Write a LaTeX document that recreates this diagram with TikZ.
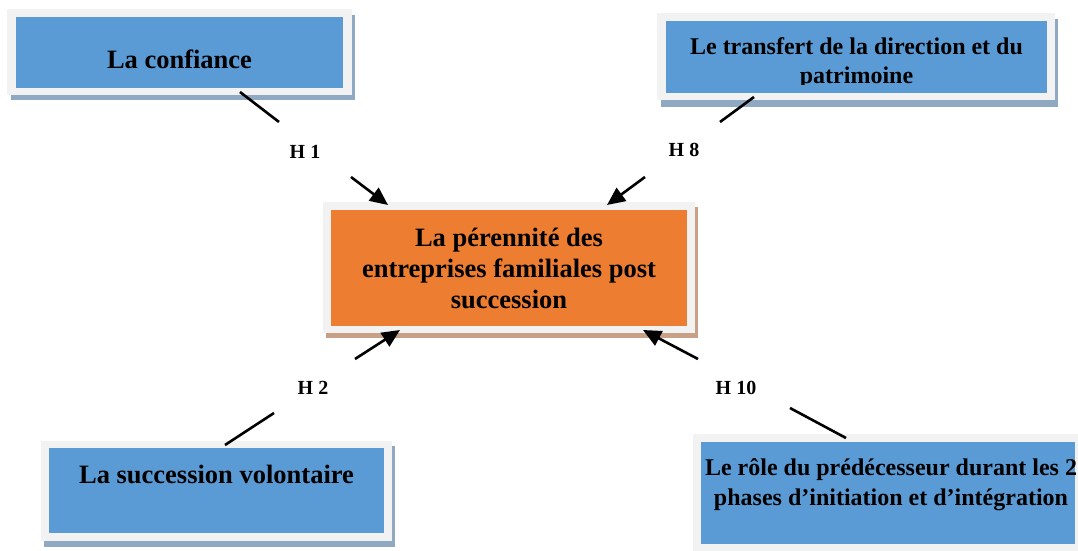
\documentclass[tikz,border=0pt]{standalone}
\usepackage{fontspec}
\setmainfont{Liberation Serif}
\usetikzlibrary{arrows.meta}
\definecolor{boxblue}{RGB}{91,155,213}
\definecolor{boxorange}{RGB}{237,125,49}
\definecolor{framegrey}{RGB}{242,242,242}
\definecolor{shadowblue}{RGB}{143,169,194}
\definecolor{shadowtan}{RGB}{199,160,134}
\begin{document}
\begin{tikzpicture}[x=1pt,y=-1pt,
  bigtext/.style={font=\bfseries\fontsize{26.5}{31}\selectfont, inner sep=0pt, align=center},
  midtext/.style={font=\bfseries\fontsize{24}{29.5}\selectfont, inner sep=0pt, align=center},
  hlabel/.style={font=\bfseries\fontsize{20}{24}\selectfont, inner sep=0pt},
  conn/.style={line width=2.6pt, black},
  arr/.style={conn, -{Triangle[length=18pt,width=16pt]}}]
\useasboundingbox (0,0) rectangle (1078,551);
\fill[white] (0,0) rectangle (1078,551);

% --- La confiance
\fill[shadowblue] (11,15) rectangle (355,100);
\fill[framegrey] (7,9) rectangle (352,95);
\fill[boxblue] (16,17) rectangle (343,88);
\node[bigtext, anchor=base] (conf) at (179.5,68) {La confiance};

% --- Le transfert
\fill[shadowblue] (661,19) rectangle (1058,107);
\fill[framegrey] (657,13) rectangle (1055,100);
\fill[boxblue] (666,21) rectangle (1047,93);
\begin{scope}
  \clip (666,21) rectangle (1047,84);
  \node[midtext] (transf) at (856.5,63) {Le transfert de la direction et du\\patrimoine};
\end{scope}

% --- Centre
\fill[shadowtan] (326,207) rectangle (698,338);
\fill[framegrey] (323,202) rectangle (695,333);
\fill[boxorange] (331,210) rectangle (687,326);
\node[bigtext] (centre) at (509,268) {La pérennité des\\entreprises familiales post\\succession};

% --- La succession volontaire
\fill[shadowblue] (44,446) rectangle (395,547);
\fill[framegrey] (41,441) rectangle (392,541);
\fill[boxblue] (49,448) rectangle (384,533);
\node[bigtext, anchor=base] (succ) at (216.5,483) {La succession volontaire};

% --- Le rôle
\fill[framegrey] (693,434) rectangle (1078,551);
\fill[boxblue] (701,442) rectangle (1075,544);
\begin{scope}
  \clip (701,442) rectangle (1075,544);
  \node[midtext] (role) at (891,484.5) {Le rôle du prédécesseur durant les 2\\phases d’initiation et d’intégration};
\end{scope}

% --- Connectors
\coordinate (a1) at (240,92);  \coordinate (b1) at (279,122);
\coordinate (c1) at (351,177); \coordinate (e1) at (388,205);
\coordinate (a8) at (754,97);  \coordinate (b8) at (720,122);
\coordinate (c8) at (645,177); \coordinate (e8) at (607,205);
\coordinate (a2) at (225,445); \coordinate (b2) at (274,413);
\coordinate (c2) at (355,359); \coordinate (e2) at (400,330);
\coordinate (a10) at (846,438); \coordinate (b10) at (790,408);
\coordinate (c10) at (698,359); \coordinate (e10) at (643,330);

\draw[conn] (a1) -- (b1);  \draw[arr] (c1) -- (e1);
\draw[conn] (a8) -- (b8);  \draw[arr] (c8) -- (e8);
\draw[conn] (a2) -- (b2);  \draw[arr] (c2) -- (e2);
\draw[conn] (a10) -- (b10); \draw[arr] (c10) -- (e10);

\node[hlabel] (h1) at (305,152) {H 1};
\node[hlabel] (h8) at (684,150) {H 8};
\node[hlabel] (h2) at (313,388) {H 2};
\node[hlabel] (h10) at (736,388) {H 10};
\end{tikzpicture}
\end{document}
